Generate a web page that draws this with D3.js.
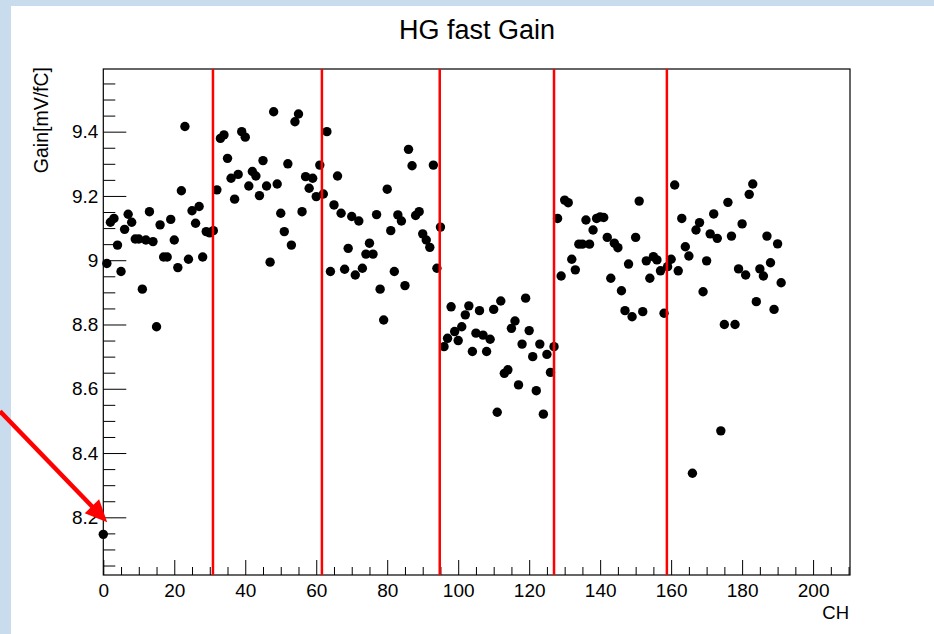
<!DOCTYPE html>
<html><head><meta charset="utf-8">
<script src="https://cdn.jsdelivr.net/npm/d3@7"></script>
<style>
body{margin:0;background:#fff;}
svg{display:block;}
text{font-family:"Liberation Sans",Arial,Helvetica,sans-serif;fill:#000;}
</style>
</head><body>
<svg id="c" width="934" height="634"></svg>
<script>
// ---------- data ----------
const chartTitle = "HG fast Gain";
const xTitle = "CH";
const yTitle = "Gain[mV/fC]";

const gainChip1 = [8.147, 8.99, 9.118, 9.13, 9.047, 8.965, 9.096, 9.143, 9.118, 9.066, 9.066, 8.91, 9.063, 9.151, 9.058, 8.793,
  9.11, 9.01, 9.01, 9.127, 9.063, 8.977, 9.216, 9.416, 9.003, 9.154, 9.115, 9.167, 9.01, 9.089, 9.085, 9.092];
const gainChip2 = [9.219, 9.379, 9.39, 9.317, 9.255, 9.19, 9.267, 9.40, 9.383, 9.231, 9.276, 9.262, 9.201, 9.31, 9.231,
  8.994, 9.462, 9.237, 9.146, 9.089, 9.30, 9.047, 9.431, 9.455, 9.151, 9.26, 9.224, 9.255, 9.198, 9.296];
const gainChip3 = [9.206, 9.40, 8.965, 9.172, 9.262, 9.146, 8.972, 9.037, 9.136, 8.954, 9.122, 8.975, 9.019, 9.053, 9.019,
  9.142, 8.91, 8.814, 9.221, 9.092, 8.965, 9.141, 9.122, 8.921, 9.345, 9.294, 9.139, 9.151, 9.082, 9.063, 9.04, 9.296, 8.975, 9.103];
const gainChip4 = [8.731, 8.757, 8.855, 8.778, 8.75, 8.793, 8.83, 8.858, 8.716, 8.773, 8.843, 8.767, 8.716, 8.754, 8.847,
  8.527, 8.873, 8.648, 8.659, 8.788, 8.811, 8.612, 8.739, 8.882, 8.781, 8.70, 8.594, 8.739, 8.521, 8.707, 8.651, 8.731];
const gainChip5 = [9.13, 8.951, 9.187, 9.179, 9.003, 8.97, 9.05, 9.05, 9.125, 9.05, 9.094, 9.13, 9.135, 9.133, 9.071,
  8.944, 9.053, 9.039, 8.905, 8.843, 8.988, 8.824, 9.071, 9.184, 8.84, 8.998, 8.944, 9.011, 9.001, 8.967, 8.835];
const gainChip6 = [8.98, 9.003, 9.234, 8.967, 9.13, 9.042, 9.013, 8.337, 9.094, 9.117, 8.902, 8.998, 9.082, 9.144, 9.068,
  8.469, 8.80, 9.18, 9.075, 8.80, 8.973, 9.113, 8.954, 9.205, 9.237, 8.871, 8.973, 8.951, 9.075, 8.992, 8.847, 9.051, 8.93];

const gain = [].concat(gainChip1, gainChip2, gainChip3, gainChip4, gainChip5, gainChip6);
const channel = d3.range(gain.length);

const xMajorTicks = [0, 20, 40, 60, 80, 100, 120, 140, 160, 180, 200];
const xTickLabels = ["0", "20", "40", "60", "80", "100", "120", "140", "160", "180", "200"];
const yMajorTicks = [8.2, 8.4, 8.6, 8.8, 9.0, 9.2, 9.4];
const yTickLabels = ["8.2", "8.4", "8.6", "8.8", "9", "9.2", "9.4"];
const xDomain = [0, 210.4];
const yDomain = [8.0205, 9.595];

const dividerCH = [30.9, 61.6, 94.8, 127, 158.8];
const arrowFrom = [-29.1, 8.53];
const arrowTo = [1.1, 8.185];

// ---------- layout ----------
const W = 934, H = 634;
const frame = {left: 103.3, right: 850, top: 69, bottom: 575};
const svg = d3.select("#c");

svg.append("rect").attr("width", W).attr("height", H).attr("fill", "#ffffff");
svg.append("rect").attr("x", 0).attr("y", 0).attr("width", W).attr("height", 6).attr("fill", "#c9dcee");
svg.append("rect").attr("x", 0).attr("y", 0).attr("width", 11).attr("height", H).attr("fill", "#c9dcee");

const x = d3.scaleLinear().domain(xDomain).range([frame.left, frame.right]);
const y = d3.scaleLinear().domain(yDomain).range([frame.bottom, frame.top]);

// minor ticks
const xMinor = d3.range(0, xDomain[1], 5).filter(v => v % 20 !== 0);
const yMinor = d3.range(8.05, yDomain[1], 0.05).filter(v => Math.abs(v * 5 - Math.round(v * 5)) > 1e-6);

const axisStyle = g => {
  g.select(".domain").remove();
  g.selectAll("line").attr("stroke", "#000").attr("stroke-width", 1);
  g.selectAll("text").attr("font-size", 19).attr("fill", "#000")
    .attr("font-family", '"Liberation Sans", Arial, Helvetica, sans-serif');
};

svg.append("g").attr("transform", `translate(0,${frame.bottom})`)
  .call(d3.axisBottom(x).tickValues(xMinor).tickSize(-8).tickFormat(""))
  .call(axisStyle);
svg.append("g").attr("transform", `translate(0,${frame.bottom})`)
  .call(d3.axisBottom(x).tickValues(xMajorTicks).tickSize(-15).tickPadding(8.5)
    .tickFormat((d, i) => xTickLabels[i]))
  .call(axisStyle);

svg.append("g").attr("transform", `translate(${frame.left},0)`)
  .call(d3.axisLeft(y).tickValues(yMinor).tickSize(-12).tickFormat(""))
  .call(axisStyle);
svg.append("g").attr("transform", `translate(${frame.left},0)`)
  .call(d3.axisLeft(y).tickValues(yMajorTicks).tickSize(-23).tickPadding(5)
    .tickFormat((d, i) => yTickLabels[i]))
  .call(axisStyle);

// frame
svg.append("rect")
  .attr("x", frame.left).attr("y", frame.top)
  .attr("width", frame.right - frame.left).attr("height", frame.bottom - frame.top)
  .attr("fill", "none").attr("stroke", "#000").attr("stroke-width", 1.2);

// points
svg.append("g").selectAll("circle").data(gain).join("circle")
  .attr("cx", (d, i) => x(channel[i]))
  .attr("cy", d => y(d))
  .attr("r", 4.7)
  .attr("fill", "#000");

// red divider lines
svg.append("g").selectAll("line").data(dividerCH).join("line")
  .attr("x1", d => x(d)).attr("x2", d => x(d))
  .attr("y1", frame.top).attr("y2", frame.bottom)
  .attr("stroke", "#ff0000").attr("stroke-width", 2.5);

// titles
svg.append("text").attr("x", 477).attr("y", 39).attr("text-anchor", "middle")
  .attr("font-size", 27).text(chartTitle);
svg.append("text").attr("transform", "translate(48,67) rotate(-90)")
  .attr("text-anchor", "end").attr("font-size", 19.5).text(yTitle);
svg.append("text").attr("x", 849).attr("y", 619).attr("text-anchor", "end")
  .attr("font-size", 18.5).text(xTitle);

// arrow annotation
const p0 = [x(arrowFrom[0]), y(arrowFrom[1])];
const p1 = [x(arrowTo[0]), y(arrowTo[1])];
const dx = p1[0] - p0[0], dy = p1[1] - p0[1];
const len = Math.hypot(dx, dy);
const ux = dx / len, uy = dy / len;
const headL = 22, headW = 10;
const base = [p1[0] - ux * headL, p1[1] - uy * headL];
svg.append("line")
  .attr("x1", p0[0]).attr("y1", p0[1])
  .attr("x2", base[0] + ux * 2).attr("y2", base[1] + uy * 2)
  .attr("stroke", "#ff0000").attr("stroke-width", 4.5);
svg.append("path")
  .attr("d", `M${p1[0]},${p1[1]} L${base[0] - uy * headW},${base[1] + ux * headW} L${base[0] + uy * headW},${base[1] - ux * headW} Z`)
  .attr("fill", "#ff0000");
</script>
</body></html>
